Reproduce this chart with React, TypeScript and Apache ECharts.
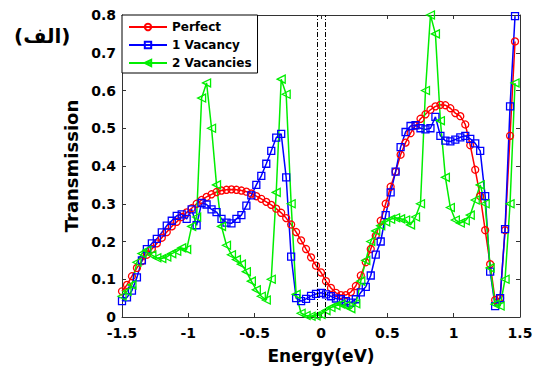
import React, { useEffect, useRef } from "react";
import * as echarts from "echarts";

const energy = [
  -1.5, -1.4625, -1.425, -1.3875, -1.35, -1.3125, -1.275, -1.2375, -1.2, -1.1625,
  -1.125, -1.0875, -1.05, -1.0125, -0.975, -0.9375, -0.9, -0.8625, -0.825, -0.7875,
  -0.75, -0.7125, -0.675, -0.6375, -0.6, -0.5625, -0.525, -0.4875, -0.45, -0.4125,
  -0.375, -0.3375, -0.3, -0.2625, -0.225, -0.1875, -0.15, -0.1125, -0.075, -0.0375,
  0, 0.0375, 0.075, 0.1125, 0.15, 0.1875, 0.225, 0.2625, 0.3, 0.3375,
  0.375, 0.4125, 0.45, 0.4875, 0.525, 0.5625, 0.6, 0.6375, 0.675, 0.7125,
  0.75, 0.7875, 0.825, 0.8625, 0.9, 0.9375, 0.975, 1.0125, 1.05, 1.0875,
  1.125, 1.1625, 1.2, 1.2375, 1.275, 1.3125, 1.35, 1.3875, 1.425, 1.4625,
];

const perfect = [
  0.068, 0.085, 0.108, 0.13, 0.148, 0.165, 0.18, 0.195, 0.21, 0.225,
  0.24, 0.252, 0.265, 0.277, 0.288, 0.3, 0.31, 0.318, 0.325, 0.331,
  0.335, 0.337, 0.338, 0.337, 0.335, 0.332, 0.327, 0.32, 0.313, 0.305,
  0.297, 0.287, 0.276, 0.262, 0.245, 0.225, 0.203, 0.18, 0.158, 0.136,
  0.118, 0.095, 0.077, 0.064, 0.058, 0.058, 0.066, 0.082, 0.11, 0.145,
  0.18, 0.215, 0.255, 0.3, 0.345, 0.385, 0.43, 0.462, 0.487, 0.507,
  0.525, 0.537, 0.549, 0.558, 0.562, 0.561, 0.553, 0.54, 0.532, 0.51,
  0.455, 0.39, 0.32, 0.23, 0.14, 0.045, 0.05, 0.23, 0.48, 0.73,
];

const vacancy1 = [
  0.042, 0.052, 0.07, 0.105, 0.15, 0.18, 0.195, 0.207, 0.224, 0.242,
  0.255, 0.268, 0.272, 0.26, 0.285, 0.243, 0.302, 0.298, 0.285, 0.278,
  0.26, 0.25, 0.248, 0.26, 0.27, 0.295, 0.322, 0.35, 0.374, 0.406,
  0.44, 0.475, 0.485, 0.37, 0.16, 0.05, 0.042, 0.048, 0.056, 0.061,
  0.064, 0.06, 0.055, 0.049, 0.047, 0.042, 0.038, 0.047, 0.065, 0.08,
  0.11, 0.165, 0.2, 0.27, 0.33, 0.385, 0.45, 0.49, 0.506, 0.508,
  0.5, 0.497, 0.5, 0.53, 0.48, 0.467, 0.465, 0.47, 0.476, 0.48,
  0.472, 0.46, 0.44, 0.32, 0.12, 0.029, 0.05, 0.233, 0.558, 0.797,
];

const vacancy2 = [
  0.055, 0.068, 0.085, 0.145, 0.168, 0.177, 0.164, 0.157, 0.155, 0.159,
  0.168, 0.174, 0.183, 0.179, 0.24, 0.265, 0.58, 0.62, 0.5, 0.35,
  0.24, 0.19, 0.165, 0.152, 0.14, 0.12, 0.095, 0.072, 0.055, 0.045,
  0.1, 0.33, 0.63, 0.59, 0.3, 0.06, 0.01, 0.004, 0.002, 0.003,
  0.007, 0.017, 0.025, 0.03, 0.034, 0.03, 0.022, 0.035, 0.095, 0.15,
  0.2, 0.228, 0.242, 0.252, 0.259, 0.263, 0.26, 0.257, 0.244, 0.265,
  0.3, 0.6, 0.8, 0.75, 0.52, 0.37, 0.29, 0.257, 0.249, 0.255,
  0.27, 0.31, 0.35, 0.3, 0.13, 0.034, 0.029, 0.1, 0.3, 0.62,
];

const seriesNames = ["Perfect", "1 Vacancy", "2 Vacancies"];
const diracLines = [-0.03, 0.025];

const FONT = '"DejaVu Sans", "Liberation Sans", sans-serif';

export default function App() {
  const ref = useRef<HTMLDivElement>(null);
  useEffect(() => {
    if (!ref.current) return;
    const chart = echarts.init(ref.current, null, { renderer: "svg" });
    const pairs = (ys: number[]) => energy.map((e, i) => [e, ys[i]]);
    const mk = (name: string, ys: number[], color: string, symbol: string, size: number, rotate = 0, extra: any = {}) => ({
      name,
      type: "line",
      data: pairs(ys),
      symbol,
      symbolSize: size,
      symbolRotate: rotate,
      showAllSymbol: true,
      lineStyle: { color, width: 1.5 },
      itemStyle: { color: "transparent", borderColor: color, borderWidth: 1.3 },
      emphasis: { disabled: true },
      ...extra,
    });
    const axisCommon = {
      axisLine: { show: true, onZero: false, lineStyle: { color: "#333", width: 1 } },
      axisTick: { show: true, inside: true, length: 4, lineStyle: { color: "#333" } },
      splitLine: { show: false },
    };
    chart.setOption({
      animation: false,
      backgroundColor: "#fff",
      grid: { left: 122, right: 17, top: 15, bottom: 46 },
      legend: {
        data: seriesNames,
        orient: "vertical",
        left: 122,
        top: 15,
        backgroundColor: "#fff",
        borderColor: "#000",
        borderWidth: 1,
        borderRadius: 0,
        padding: [6, 6, 4, 6],
        itemWidth: 38,
        itemHeight: 8,
        itemGap: 6,
        textStyle: { fontFamily: FONT, fontWeight: "bold", fontSize: 12, color: "#000" },
        z: 10,
      },
      xAxis: [
        {
          type: "value",
          min: -1.5,
          max: 1.5,
          interval: 0.5,
          position: "bottom",
          ...axisCommon,
          axisLabel: { fontFamily: FONT, fontWeight: "bold", fontSize: 14, color: "#000", margin: 9 },
          name: "Energy(eV)",
          nameLocation: "middle",
          nameGap: 30,
          nameTextStyle: { fontFamily: FONT, fontWeight: "bold", fontSize: 17, color: "#000" },
        },
        {
          type: "value",
          min: -1.5,
          max: 1.5,
          interval: 0.5,
          position: "top",
          ...axisCommon,
          axisLabel: { show: false },
        },
      ],
      yAxis: [
        {
          type: "value",
          min: 0,
          max: 0.8,
          interval: 0.1,
          position: "left",
          ...axisCommon,
          axisLabel: { fontFamily: FONT, fontWeight: "bold", fontSize: 14, color: "#000", margin: 6 },
          name: "Transmission",
          nameLocation: "middle",
          nameGap: 37,
          nameTextStyle: { fontFamily: FONT, fontWeight: "bold", fontSize: 18, color: "#000" },
        },
        {
          type: "value",
          min: 0,
          max: 0.8,
          interval: 0.1,
          position: "right",
          ...axisCommon,
          axisLabel: { show: false },
        },
      ],
      series: [
        mk(seriesNames[0], perfect, "#ff0000", "circle", 7, 0, {
          markLine: {
            silent: true,
            symbol: ["none", "none"],
            label: { show: false },
            lineStyle: { color: "#000", width: 1, type: [5, 2, 1, 2] },
            data: diracLines.map((x) => ({ xAxis: x })),
          },
        }),
        mk(seriesNames[1], vacancy1, "#0000ff", "rect", 7),
        mk(seriesNames[2], vacancy2, "#00ee00", "triangle", 8, 90),
      ],
      graphic: [
        {
          type: "text",
          left: 14,
          top: 26,
          style: { text: "(الف)", font: 'bold 20px "DejaVu Sans", sans-serif', fill: "#000" },
        },
      ],
    });
    return () => chart.dispose();
  }, []);
  return <div ref={ref} style={{ position: "fixed", left: 0, top: 0, width: 537, height: 369 }} />;
}
